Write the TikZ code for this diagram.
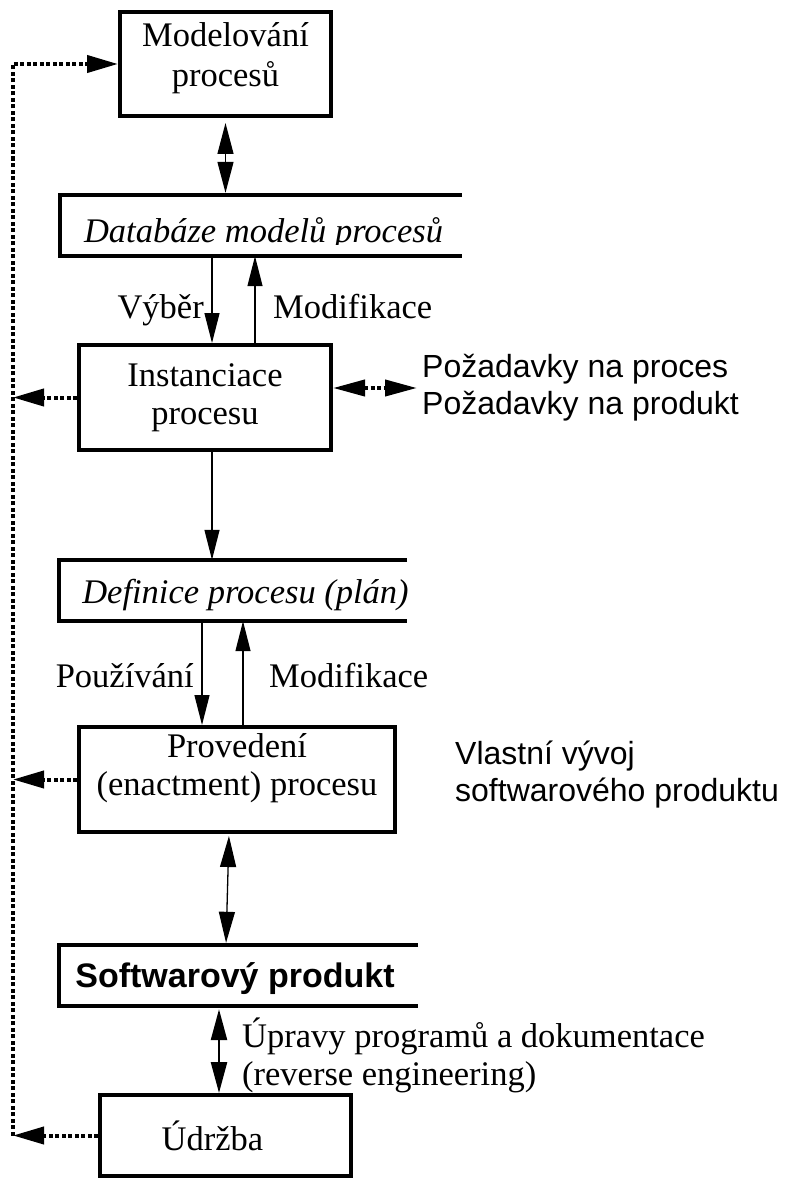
\documentclass[tikz,border=0pt]{standalone}
\usepackage{fontspec}
\setmainfont{Liberation Serif}
\setsansfont{Liberation Sans}
\usetikzlibrary{arrows.meta}

\newcommand{\txtfont}{\fontsize{34.5}{38}\selectfont}
\newcommand{\notefont}{\sffamily\fontsize{32}{37}\selectfont}

\begin{document}
\begin{tikzpicture}[x=1pt,y=-1pt,
    box/.style={draw, line width=4pt, inner sep=0pt, align=center, font=\txtfont},
    frame/.style={inner sep=0pt, minimum height=61pt},
    frameline/.style={line width=4.5pt},
    lbl/.style={inner sep=0pt, font=\txtfont},
    note/.style={align=left, inner sep=5pt, font=\notefont},
    arr/.style={line width=1.3pt, -{Triangle[length=30pt,width=15pt]}},
    darr/.style={line width=1.3pt, {Triangle[length=31pt,width=16pt]}-{Triangle[length=31pt,width=16pt]}},
    dots/.style={line width=4pt, dash pattern=on 4pt off 2.5pt},
    dotarr/.style={dots, -{Triangle[length=31pt,width=17pt]}}]
    \useasboundingbox (0,0) rectangle (784,1182);

    % boxes and open frames
    \draw (225.5,64) node[box, minimum width=211, minimum height=104, text depth=18pt] (model) {Modelování\\[2pt]procesů};
    \draw (261,225.5) node[frame, minimum width=402] (db) {};
    \draw (205,397.5) node[box, minimum width=252, minimum height=105] (inst) {Instanciace\\procesu};
    \draw (233,590.5) node[frame, minimum width=348] (defn) {};
    \draw (237,779.5) node[box, minimum width=316, minimum height=105, text depth=31pt] (prov) {Provedení\\(enactment) procesu};
    \draw (238.5,975.5) node[frame, minimum width=359] (soft) {};
    \draw (225.5,1135.5) node[box, minimum width=251, minimum height=81] (udrz) {Údržba\hspace*{26pt}};

    \draw[frameline] (db.north east) -- (db.north west) -- (db.south west) -- (db.south east);
    \draw[frameline] (defn.north east) -- (defn.north west) -- (defn.south west) -- (defn.south east);
    \draw[frameline] (soft.north east) -- (soft.north west) -- (soft.south west) -- (soft.south east);

    \begin{scope}
        \clip (0,0) rectangle (784,245);
        \draw (263.5,243) node[lbl, anchor=base, font=\txtfont\itshape] (dbtext) {Databáze modelů procesů};
    \end{scope}
    \draw (245.5,603) node[lbl, anchor=base, font=\txtfont\itshape] (defntext) {Definice procesu (plán)};
    \draw (235,987) node[lbl, anchor=base, font=\sffamily\bfseries\fontsize{34}{38}\selectfont] (softtext) {Softwarový produkt};

    % labels
    \draw (204,318) node[lbl, anchor=base east] (vyber) {Výběr};
    \draw (273,318) node[lbl, anchor=base west] (modif) {Modifikace};
    \draw (194,687) node[lbl, anchor=base east] (pouz) {Používání};
    \draw (269,687) node[lbl, anchor=base west] (modifb) {Modifikace};
    \draw (417,388) node[note, anchor=west] (req) {Požadavky na proces\\Požadavky na produkt};
    \draw (450,775) node[note, anchor=west] (vlast) {Vlastní vývoj\\softwarového produktu};
    \draw (242,1055) node[lbl, anchor=west, align=left] (upr) {Úpravy programů a dokumentace\\(reverse engineering)};

    % connectors
    \path[darr] (model.south) edge[shorten <=5pt, shorten >=2pt] (db.north -| model.south);
    \path[arr] (db.south -| 212,0) edge (inst.north -| 212,0)
               (inst.north -| 255,0) edge (db.south -| 255,0)
               (inst.south -| 212,0) edge (defn.north -| 212,0)
               (defn.south -| 202,0) edge (prov.north -| 202,0)
               (prov.north -| 243,0) edge (defn.south -| 243,0);
    \path[darr] (prov.south -| 229,0) edge[shorten <=2pt, shorten >=2pt] (soft.north -| 226,0);
    \path[darr, line width=2.5pt] (soft.south -| 219,0) edge[shorten <=3pt] (udrz.north -| 219,0);

    % feedback
    \coordinate (fb) at (13,0);
    \path[dotarr] (inst.west) edge (inst.west -| fb)
                  (prov.west) edge (prov.west -| fb)
                  (udrz.west) edge (udrz.west -| fb);
    \draw[dotarr] (udrz.west -| fb) -- (model.west -| fb) -- (model.west);
    \draw[dots, {Triangle[length=32pt,width=16pt]}-{Triangle[length=32pt,width=16pt]}] (inst.east |- req.west) -- (req.west);
\end{tikzpicture}
\end{document}
